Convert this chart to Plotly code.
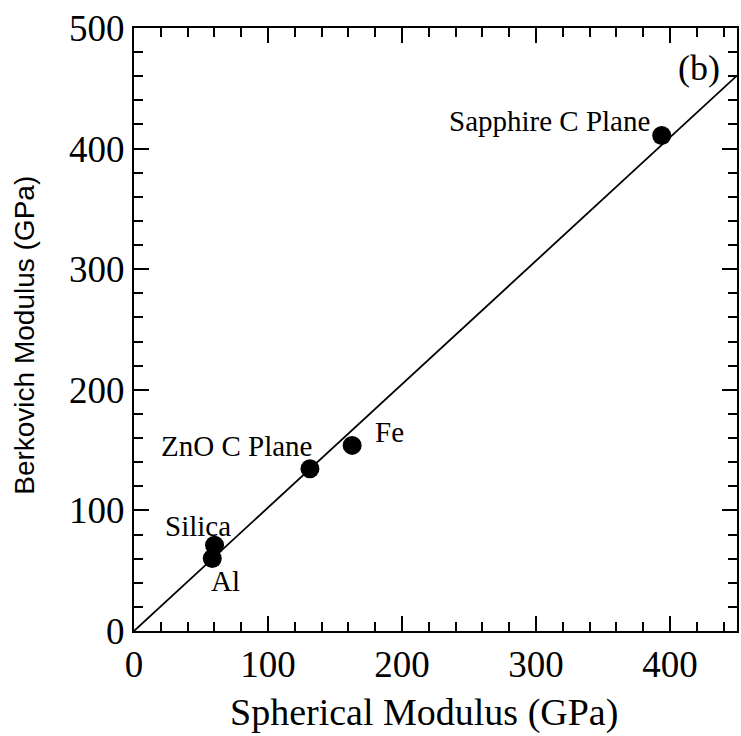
import plotly.graph_objects as go

# Data (GPa)
materials = ["Sapphire C Plane", "Fe", "ZnO C Plane", "Silica", "Al"]
spherical = [393.8, 162.8, 131.3, 60.1, 58.4]
berkovich = [410.8, 153.9, 134.6, 71.1, 60.1]

fit_x = [0, 450]
fit_y = [0, 460.5]

x_ticks = [0, 100, 200, 300, 400]
y_ticks = [0, 100, 200, 300, 400, 500]

# label positions (data coords) and anchors
label_x = [386.5, 178.0, 76.3, 47.6, 68.3]
label_y = [423.0, 164.7, 153.1, 87.4, 41.3]
label_xanchor = ["right", "left", "center", "center", "center"]

serif = "Liberation Serif, Times New Roman, serif"
sans = "Liberation Sans, Arial, sans-serif"

fig = go.Figure()
fig.add_trace(go.Scatter(x=fit_x, y=fit_y, mode="lines",
                         line=dict(color="black", width=1.8), showlegend=False))
fig.add_trace(go.Scatter(x=spherical, y=berkovich, mode="markers",
                         marker=dict(color="black", size=19), showlegend=False))

for name, lx, ly, xa in zip(materials, label_x, label_y, label_xanchor):
    fig.add_annotation(x=lx, y=ly, xref="x", yref="y", text=name, showarrow=False,
                       xanchor=xa, yanchor="middle",
                       font=dict(family=serif, size=29, color="black"))

fig.add_annotation(x=421.4, y=467, xref="x", yref="y", text="(b)", showarrow=False,
                   xanchor="center", yanchor="middle",
                   font=dict(family=serif, size=36, color="black"))

# axis titles
fig.add_annotation(x=0.481, y=-0.135, xref="paper", yref="paper",
                   text="Spherical Modulus (GPa)", showarrow=False,
                   xanchor="center", yanchor="middle",
                   font=dict(family=serif, size=38, color="black"))
fig.add_annotation(x=-0.181, y=0.491, xref="paper", yref="paper",
                   text="Berkovich Modulus (GPa)", showarrow=False, textangle=-90,
                   xanchor="center", yanchor="middle",
                   font=dict(family=sans, size=28, color="black"))

axis_common = dict(showgrid=False, zeroline=False, showline=True, linecolor="black",
                   linewidth=2, mirror="ticks", ticks="inside", ticklen=15,
                   tickwidth=2, tickcolor="black",
                   tickfont=dict(family=serif, size=37, color="black"))

fig.update_xaxes(range=[0, 450], tickvals=x_ticks, ticktext=[str(v) for v in x_ticks],
                 minor=dict(dtick=20, tick0=0, ticks="inside", ticklen=9, tickwidth=2,
                            tickcolor="black", showgrid=False),
                 **axis_common)
fig.update_yaxes(range=[0, 500], tickvals=y_ticks, ticktext=[str(v) for v in y_ticks],
                 minor=dict(dtick=20, tick0=0, ticks="inside", ticklen=9, tickwidth=2,
                            tickcolor="black", showgrid=False),
                 **axis_common)

fig.update_layout(width=741, height=736,
                  margin=dict(l=133.5, r=2, t=28, b=104.5, pad=0),
                  plot_bgcolor="white", paper_bgcolor="white")

fig.write_html("out.html")
